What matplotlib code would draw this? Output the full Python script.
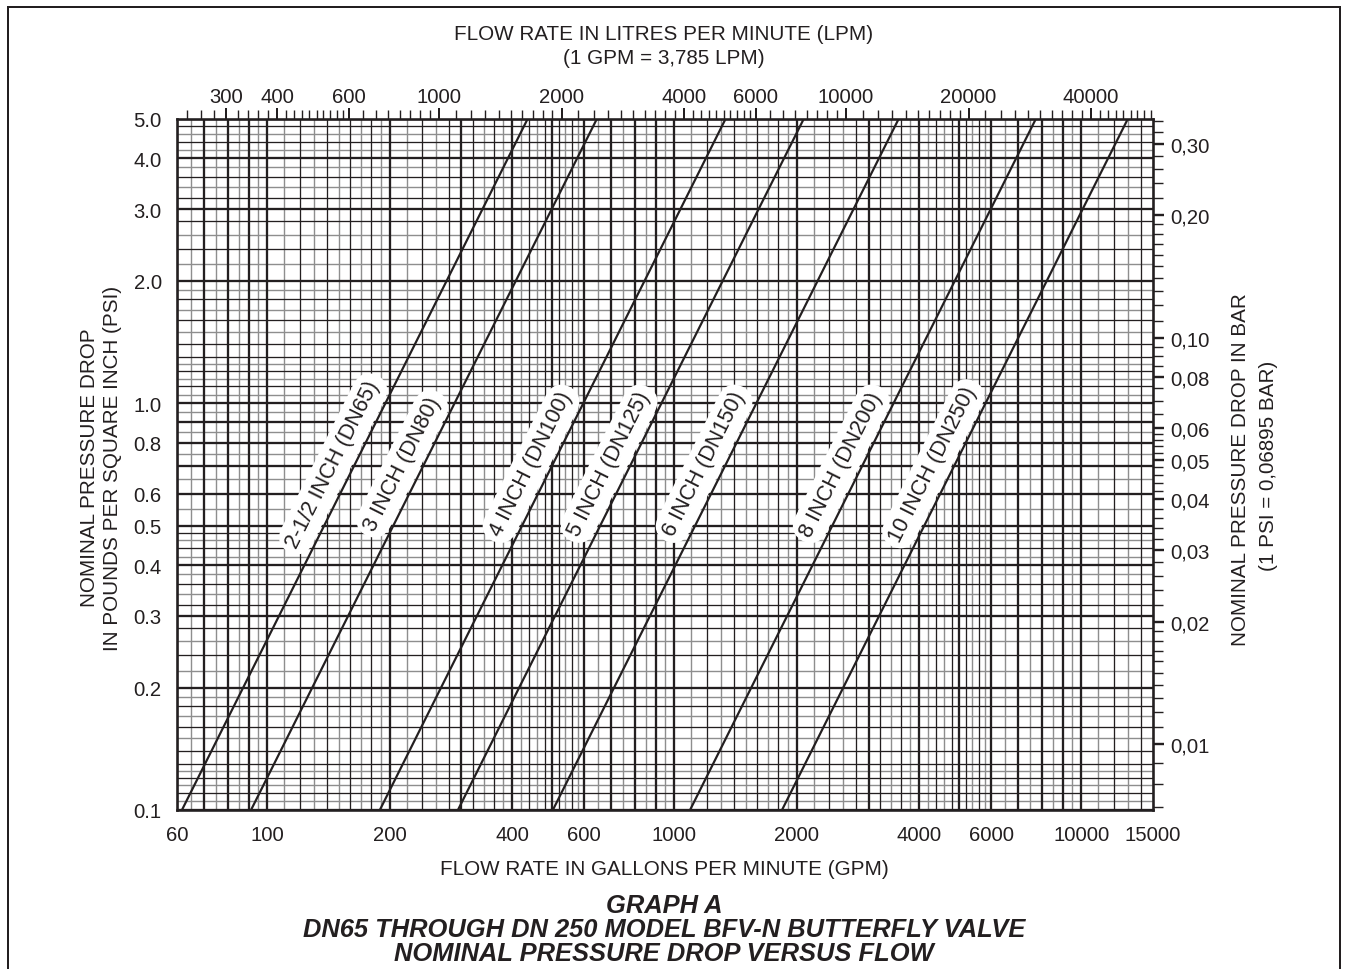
import math
import numpy as np
import matplotlib
matplotlib.use("Agg")
import matplotlib.pyplot as plt
import matplotlib.transforms as mtransforms
from matplotlib.lines import Line2D
from matplotlib.ticker import FixedLocator, FuncFormatter, NullFormatter, NullLocator

plt.rcParams['font.family'] = ['Liberation Sans', 'DejaVu Sans']

# ---- valve curves: flow (GPM) at the bottom (0.1 psi) and top (5.0 psi) of each curve
valve_labels = ["2-1/2 INCH (DN65)", "3 INCH (DN80)", "4 INCH (DN100)", "5 INCH (DN125)",
                "6 INCH (DN150)", "8 INCH (DN200)", "10 INCH (DN250)"]
psi_ends = [0.1, 5.0]
flow_at_low = [61.7, 91.2, 189, 294, 503, 1093, 1839]
flow_at_high = [436, 645, 1336, 2079, 3557, 7729, 13004]

# ---- axis ticks
gpm_ticks = [60, 100, 200, 400, 600, 1000, 2000, 4000, 6000, 10000, 15000]
psi_ticks = [0.1, 0.2, 0.3, 0.4, 0.5, 0.6, 0.8, 1.0, 2.0, 3.0, 4.0, 5.0]
lpm_ticks = [300, 400, 600, 1000, 2000, 4000, 6000, 10000, 20000, 40000]
bar_ticks = [0.01, 0.02, 0.03, 0.04, 0.05, 0.06, 0.08, 0.10, 0.20, 0.30]
GPM_TO_LPM = 3.785
PSI_TO_BAR = 0.06895

INK = '#231f20'
GRAY = '#8e8e8e'
FS = 14.6
PX = 72 / 100  # points per pixel at 100 dpi

W, H = 1348, 970
fig = plt.figure(figsize=(W / 100, H / 100), dpi=100)
fig.patch.set_facecolor('white')

x0, x1, y0, y1 = 177, 1153, 120, 811
ax = fig.add_axes([x0 / W, 1 - y1 / H, (x1 - x0) / W, (y1 - y0) / H])
ax.set_xscale('log')
ax.set_yscale('log')
ax.set_xlim(60, 15000)
ax.set_ylim(0.1, 5.0)


def seq(a, b, step):
    return [round(v, 6) for v in np.arange(a, b + step / 2, step)]


def is_major(v):
    m = v / 10 ** math.floor(math.log10(v) + 1e-9)
    return abs(m - round(m)) < 1e-6


def grid_lines(segments):
    vals = {}
    for a, b, step in segments:
        for v in seq(a, b, step):
            if v in vals:
                continue
            if is_major(v):
                vals[v] = 'major'
            elif round(v / step) % 2 == 0:
                vals[v] = 'black'
            else:
                vals[v] = 'gray'
    return vals


x_segments = [(60, 100, 5), (100, 200, 10), (200, 400, 20), (400, 600, 20), (600, 1000, 50),
              (1000, 2000, 100), (2000, 4000, 200), (4000, 6000, 200), (6000, 10000, 500),
              (10000, 15000, 1000)]
y_segments = [(0.1, 0.13, 0.005), (0.13, 0.2, 0.01), (0.2, 0.3, 0.02), (0.3, 0.5, 0.02),
              (0.5, 1.0, 0.05), (1.0, 1.3, 0.05), (1.3, 2.0, 0.1), (2.0, 3.0, 0.2), (3.0, 5.0, 0.2)]

styles = {'gray': (GRAY, 1.4 * PX, 1), 'black': (INK, 1.3 * PX, 2), 'major': (INK, 2.3 * PX, 2)}
for v, kind in grid_lines(x_segments).items():
    c, lw, z = styles[kind]
    ax.axvline(v, color=c, lw=lw, zorder=z)
for v, kind in grid_lines(y_segments).items():
    c, lw, z = styles[kind]
    ax.axhline(v, color=c, lw=lw, zorder=z)

# ---- valve curves with their labels
label_psi = 0.71
label_shift = mtransforms.offset_copy(ax.transData, fig=fig, x=-22, y=0, units='dots')
for name, q_lo, q_hi in zip(valve_labels, flow_at_low, flow_at_high):
    ax.plot([q_lo, q_hi], psi_ends, color=INK, lw=2.2 * PX, zorder=6, solid_capstyle='butt')
    p0 = ax.transData.transform((q_lo, psi_ends[0]))
    p1 = ax.transData.transform((q_hi, psi_ends[1]))
    ang = math.degrees(math.atan2(p1[1] - p0[1], p1[0] - p0[0]))
    t = math.log(label_psi / psi_ends[0]) / math.log(psi_ends[1] / psi_ends[0])
    q_lab = q_lo * (q_hi / q_lo) ** t
    ax.text(q_lab, label_psi, name, transform=label_shift, rotation=ang,
            rotation_mode='anchor', ha='center', va='center', fontsize=15.6, color=INK,
            zorder=5,
            bbox=dict(boxstyle='round,pad=0.32,rounding_size=0.9', fc='white', ec='none'))

# ---- bottom / left axes
ax.xaxis.set_major_locator(FixedLocator(gpm_ticks))
ax.xaxis.set_major_formatter(FuncFormatter(lambda v, p: f"{v:g}"))
ax.xaxis.set_minor_locator(NullLocator())
ax.yaxis.set_major_locator(FixedLocator(psi_ticks))
ax.yaxis.set_major_formatter(FuncFormatter(lambda v, p: f"{v:.1f}"))
ax.yaxis.set_minor_locator(NullLocator())
ax.tick_params(axis='x', length=0, pad=11, labelsize=FS, labelcolor=INK)
ax.tick_params(axis='y', length=0, pad=11, labelsize=FS, labelcolor=INK)
for s in ax.spines.values():
    s.set_linewidth(2.6 * PX)
    s.set_color(INK)
    s.set_zorder(7)

# ---- top axis in litres per minute
top = ax.secondary_xaxis('top', functions=(lambda x: x * GPM_TO_LPM, lambda x: x / GPM_TO_LPM))
top_minor = []
for a, b, step in [(240, 400, 20), (400, 600, 20), (600, 1000, 50), (1000, 2000, 100),
                   (2000, 4000, 200), (4000, 6000, 200), (6000, 10000, 500),
                   (10000, 20000, 1000), (20000, 40000, 2000), (40000, 56000, 2000)]:
    top_minor += [v for v in seq(a, b, step) if v not in lpm_ticks and v not in top_minor]
top.xaxis.set_major_locator(FixedLocator(lpm_ticks))
top.xaxis.set_minor_locator(FixedLocator(top_minor))
top.xaxis.set_major_formatter(FuncFormatter(lambda v, p: f"{v:g}"))
top.xaxis.set_minor_formatter(NullFormatter())
top.tick_params(axis='x', which='major', direction='out', length=11 * PX, width=2.0 * PX,
                color=INK, pad=2 * PX, labelsize=FS, labelcolor=INK)
top.tick_params(axis='x', which='minor', direction='out', length=9 * PX, width=1.4 * PX,
                color=INK)
top.spines['top'].set_visible(False)

# ---- right axis in bar
right = ax.secondary_yaxis('right', functions=(lambda p: p * PSI_TO_BAR, lambda b: b / PSI_TO_BAR))
right_minor = []
for a, b, step in [(0.007, 0.01, 0.001), (0.01, 0.02, 0.001), (0.02, 0.03, 0.002),
                   (0.03, 0.06, 0.002), (0.06, 0.10, 0.005), (0.10, 0.20, 0.01), (0.20, 0.34, 0.02)]:
    right_minor += [v for v in seq(a, b, step)
                    if all(abs(v - m) > 1e-9 for m in bar_ticks) and v not in right_minor]
right.yaxis.set_major_locator(FixedLocator(bar_ticks))
right.yaxis.set_minor_locator(FixedLocator(right_minor))
right.yaxis.set_major_formatter(FuncFormatter(lambda v, p: f"{v:.2f}".replace('.', ',')))
right.yaxis.set_minor_formatter(NullFormatter())
right.tick_params(axis='y', which='major', direction='out', length=11 * PX, width=2.4 * PX,
                  color=INK, pad=6 * PX, labelsize=FS, labelcolor=INK)
right.tick_params(axis='y', which='minor', direction='out', length=10 * PX, width=1.4 * PX,
                  color=INK)
right.spines['right'].set_visible(False)


# ---- titles and axis captions (figure pixel positions)
def ftext(x, y, s, **kw):
    kw.setdefault('fontsize', 14.9)
    kw.setdefault('color', INK)
    fig.text(x / W, 1 - y / H, s, ha='center', va='center', **kw)


ftext(664, 35, "FLOW RATE IN LITRES PER MINUTE (LPM)")
ftext(664, 59, "(1 GPM = 3,785 LPM)")
ftext(664, 870, "FLOW RATE IN GALLONS PER MINUTE (GPM)")
ftext(90, 468, "NOMINAL PRESSURE DROP", rotation=90)
ftext(113, 468, "IN POUNDS PER SQUARE INCH (PSI)", rotation=90)
ftext(1241, 470, "NOMINAL PRESSURE DROP IN BAR", rotation=90)
ftext(1268, 466, "(1 PSI = 0,06895 BAR)", rotation=90)
bold = dict(fontsize=18.4, fontweight='bold', fontstyle='italic')
ftext(664, 906, "GRAPH A", **bold)
ftext(664, 930, "DN65 THROUGH DN 250 MODEL BFV-N BUTTERFLY VALVE", **bold)
ftext(664, 954, "NOMINAL PRESSURE DROP VERSUS FLOW", **bold)

# ---- outer frame
frame = dict(color=INK, lw=2.0 * PX, transform=fig.transFigure)
fig.add_artist(Line2D([8 / W, 8 / W], [0, 1 - 8 / H], **frame))
fig.add_artist(Line2D([8 / W, 1340 / W], [1 - 8 / H, 1 - 8 / H], **frame))
fig.add_artist(Line2D([1340 / W, 1340 / W], [0, 1 - 8 / H], **frame))

fig.savefig('out.png', dpi=100)
